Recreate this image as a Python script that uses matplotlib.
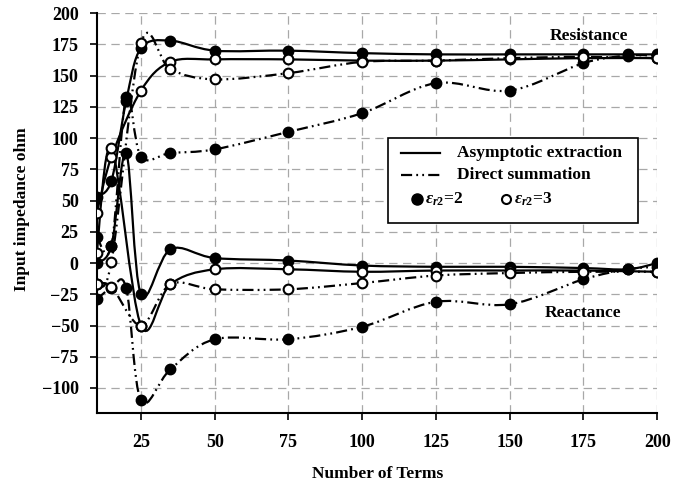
import numpy as np
import matplotlib
matplotlib.use("Agg")
import matplotlib.pyplot as plt
from matplotlib.path import Path
from matplotlib.patches import PathPatch, Rectangle
from matplotlib.lines import Line2D

plt.rcParams['font.family'] = 'Liberation Serif'
plt.rcParams['font.weight'] = 'bold'
plt.rcParams['mathtext.fontset'] = 'custom'
plt.rcParams['mathtext.it'] = 'Liberation Serif:italic:bold'
plt.rcParams['mathtext.rm'] = 'Liberation Serif:bold'
plt.rcParams['lines.scale_dashes'] = False

# x positions (eps_r2=2 curves have an extra point at 20 and 190)
x_f = [10, 15, 20, 25, 35, 50, 75, 100, 125, 150, 175, 190, 200]
x_o = [10, 15, 25, 35, 50, 75, 100, 125, 150, 175, 200]

# Resistance
r_ae2 = [53, 66, 130, 172, 178, 170, 170, 168, 167, 167, 167, 167, 167]
r_ds2 = [21, 14, 133, 85, 88, 91, 105, 120, 144, 138, 160, 166, 166]
r_ae3 = [40, 85, 138, 161, 163, 163, 162, 162, 163, 164, 164]
r_ds3 = [-17, 1, 176, 155, 147, 152, 161, 162, 164, 165, 164]
# Reactance
x_ae2 = [0, 14, 88, -25, 11, 4, 2, -2, -3, -3, -4, -5, 0]
x_ds2 = [-29, -20, -20, -110, -85, -61, -61, -51, -31, -33, -13, -5, -3]
x_ae3 = [8, 92, -50, -17, -5, -5, -7, -6, -6, -6, -7]
x_ds3 = [-17, -19, -50, -17, -21, -21, -16, -10, -8, -7, -7]

DASH = (0, (8, 3, 1.3, 3, 1.3, 3))
FS = 12.5

def smooth(ax, xs, ys, ls):
    # Catmull-Rom style bezier through the points (like a spreadsheet "smoothed line")
    p = np.column_stack([xs, ys]).astype(float)
    verts = [p[0]]; codes = [Path.MOVETO]
    n = len(p)
    for i in range(n - 1):
        p0 = p[i - 1] if i > 0 else p[i]
        p3 = p[i + 2] if i + 2 < n else p[i + 1]
        c1 = p[i] + (p[i + 1] - p0) / 6
        c2 = p[i + 1] - (p3 - p[i]) / 6
        verts += [c1, c2, p[i + 1]]; codes += [Path.CURVE4] * 3
    ax.add_patch(PathPatch(Path(verts, codes), fill=False, lw=1.6, ls=ls, ec='black', zorder=3))

fig = plt.figure(figsize=(6.86, 4.87), dpi=100)
ax = fig.add_axes([0.141, 0.152, 0.817, 0.821])

series = [(x_f, r_ae2, '-', 'black'), (x_f, r_ds2, DASH, 'black'),
          (x_o, r_ae3, '-', 'white'), (x_o, r_ds3, DASH, 'white'),
          (x_f, x_ae2, '-', 'black'), (x_f, x_ds2, DASH, 'black'),
          (x_o, x_ae3, '-', 'white'), (x_o, x_ds3, DASH, 'white')]
for xs, ys, ls, fc in series:
    smooth(ax, xs, ys, ls)
    ax.plot(xs, ys, ls='none', marker='o', ms=7, mfc=fc, mec='black', mew=1.5, zorder=4)

ax.set_xlim(10, 200)
ax.set_ylim(-120, 200)
ax.set_xticks(range(25, 201, 25))
ax.set_yticks(range(-100, 201, 25))
ax.tick_params(axis='both', labelsize=13, length=5, width=1.2, direction='out')
ax.tick_params(axis='x', pad=10)
ax.tick_params(axis='y', pad=8)
ax.grid(True, color='#a8a8a8', lw=0.9, ls=(0, (6, 4)))
ax.set_axisbelow(True)
for s in ['top', 'right']:
    ax.spines[s].set_visible(False)
for s in ['left', 'bottom']:
    ax.spines[s].set_linewidth(1.5)

fig.text(0.55, 0.027, 'Number of Terms', fontsize=FS, fontweight='bold', ha='center', va='center')
fig.text(0.032, 0.57, 'Input impedance ohm', fontsize=FS, fontweight='bold', ha='center', va='center',
         rotation=90)

ax.text(177, 182, 'Resistance', fontsize=FS, fontweight='bold', ha='center', va='center')
ax.text(175, -40, 'Reactance', fontsize=FS, fontweight='bold', ha='center', va='center')

# legend box drawn by hand
T = ax.transAxes
ax.add_patch(Rectangle((0.52, 0.475), 0.446, 0.2125, transform=T, fc='white', ec='black', lw=1.2, zorder=5))
ax.add_line(Line2D([0.543, 0.6125], [0.65, 0.65], transform=T, color='black', lw=1.6, zorder=6))
ax.add_line(Line2D([0.543, 0.6125], [0.595, 0.595], transform=T, color='black', lw=1.6, ls=DASH, zorder=6))
ax.text(0.643, 0.65, 'Asymptotic extraction', transform=T, fontsize=FS, va='center', zorder=6)
ax.text(0.643, 0.595, 'Direct summation', transform=T, fontsize=FS, va='center', zorder=6)
ax.plot([0.571], [0.535], transform=T, marker='o', ms=8, mfc='black', mec='black', zorder=6, clip_on=False)
ax.plot([0.73], [0.535], transform=T, marker='o', ms=6.5, mfc='white', mec='black', mew=1.5, zorder=6, clip_on=False)
ax.text(0.585, 0.535, r'$\varepsilon_{r2}$=2', transform=T, fontsize=FS, va='center', zorder=6)
ax.text(0.744, 0.535, r'$\varepsilon_{r2}$=3', transform=T, fontsize=FS, va='center', zorder=6)

fig.savefig('out.png', dpi=100)
